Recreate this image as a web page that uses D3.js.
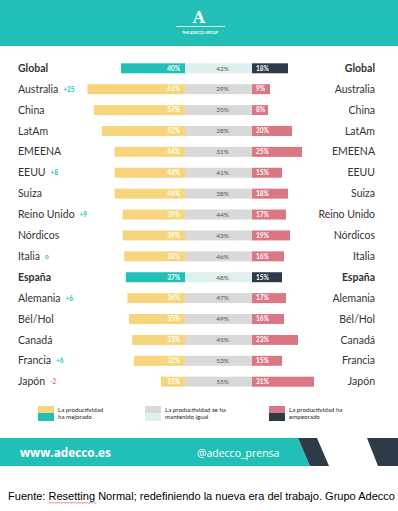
<!DOCTYPE html>
<html><head><meta charset="utf-8">
<script src="https://cdn.jsdelivr.net/npm/d3@7/dist/d3.min.js"></script>
<style>
html,body{margin:0;padding:0;background:#fff;}
svg{display:block;}
</style></head>
<body>
<script>
const countries = ["Global","Australia","China","LatAm","EMEENA","EEUU","Suiza","Reino Unido","Nórdicos","Italia","España","Alemania","Bél/Hol","Canadá","Francia","Japón"];
const improved = [40,61,57,52,44,44,44,39,39,38,37,36,35,33,32,15];
const same     = [42,29,35,28,31,41,38,44,43,46,48,47,49,45,53,55];
const worse    = [18,9,8,20,25,15,18,17,19,16,15,17,16,23,15,31];
const deltas   = ["","+25","","","","+8","","+9","","o","","+6","","","+6","-2"];
const highlight = ["Global","España"];
const legendLabels = [["La productividad","ha mejorado"],["La productividad se ha","mantenido igual"],["La productividad ha","empeorado"]];
const footerLeft = "www.adecco.es";
const footerRight = "@adecco_prensa";
const sourceText = "Fuente: Resetting Normal; redefiniendo la nueva era del trabajo. Grupo Adecco";

const W = 398, H = 511;
const C = {teal:"#22bfb6", yellow:"#f6d57c", gray:"#d9d9d9", lightTeal:"#def1ef", pink:"#d97883", navy:"#2f3a48", text:"#333"};

const svg = d3.select("body").append("svg").attr("width", W).attr("height", H);

// header
svg.append("rect").attr("x",0).attr("y",0).attr("width",W).attr("height",46).attr("fill",C.teal);
svg.append("text").attr("x",199).attr("y",23).attr("text-anchor","middle")
  .attr("font-family","DejaVu Serif, Liberation Serif, serif").attr("font-weight","bold").attr("font-size",16).attr("fill","#fff").text("A");
svg.append("line").attr("x1",176).attr("x2",225).attr("y1",26.5).attr("y2",26.5).attr("stroke","#fff").attr("stroke-width",0.8);
svg.append("text").attr("x",200).attr("y",34).attr("text-anchor","middle")
  .attr("font-family","Lato, sans-serif").attr("font-weight","bold").attr("font-size",3.6).attr("fill","#fff").text("THE ADECCO GROUP");

// scales
const y = d3.scalePoint().domain(countries).range([68.3, 381.7]);
const barH = 10;
const xImp = d3.scaleLinear().domain([0,100]).range([185, 25]);   // grows leftwards
const xMid = d3.scaleBand().domain(["same"]).range([185, 252]);
const xWor = d3.scaleLinear().domain([0,100]).range([252, 452]);

const rows = countries.map((c,i)=>({c, imp:improved[i], same:same[i], worse:worse[i], delta:deltas[i], hl: highlight.includes(c)}));

const g = svg.append("g");
const row = g.selectAll("g.row").data(rows).join("g").attr("class","row");

row.append("rect").attr("x",d=>xImp(d.imp)).attr("width",d=>xImp(0)-xImp(d.imp))
  .attr("y",d=>y(d.c)-barH/2).attr("height",barH).attr("fill",d=>d.hl?C.teal:C.yellow);
row.append("rect").attr("x",xMid("same")).attr("width",xMid.bandwidth())
  .attr("y",d=>y(d.c)-barH/2).attr("height",barH).attr("fill",d=>d.hl?C.lightTeal:C.gray);
row.append("rect").attr("x",xWor(0)).attr("width",d=>xWor(d.worse)-xWor(0))
  .attr("y",d=>y(d.c)-barH/2).attr("height",barH).attr("fill",d=>d.hl?C.navy:C.pink);

const pctFont = "Lato, sans-serif";
row.append("text").attr("x",xImp(0)-5).attr("y",d=>y(d.c)+2.3).attr("text-anchor","end")
  .attr("font-family",pctFont).attr("font-size",6.5).attr("font-weight","bold").attr("fill","#fff").text(d=>d.imp+"%");
row.append("text").attr("x",xMid("same")+xMid.bandwidth()/2+4).attr("y",d=>y(d.c)+2.3).attr("text-anchor","middle")
  .attr("font-family",pctFont).attr("font-size",6.5).attr("fill","#555").text(d=>d.same+"%");
row.append("text").attr("x",xWor(0)+4).attr("y",d=>y(d.c)+2.3)
  .attr("font-family",pctFont).attr("font-size",6.5).attr("font-weight","bold").attr("fill","#fff").text(d=>d.worse+"%");

// left labels
const labFont = "Lato, sans-serif";
row.append("text").attr("class","lab").attr("x",18).attr("y",d=>y(d.c)+3.6)
  .attr("font-family",labFont).attr("font-size",10.5).attr("font-weight",d=>d.hl?"bold":"normal")
  .attr("fill",C.text).text(d=>d.c);
row.each(function(d){
  if(!d.delta) return;
  const lab = d3.select(this).select("text.lab").node();
  const w = lab.getComputedTextLength();
  d3.select(this).append("text").attr("x",18+w+5).attr("y",y(d.c)+2.5)
    .attr("font-family",labFont).attr("font-size",6.5).attr("font-weight","bold")
    .attr("fill",d.delta.startsWith("-")?C.pink:C.teal).text(d.delta);
});
// right labels
row.append("text").attr("x",375).attr("y",d=>y(d.c)+3.6).attr("text-anchor","end")
  .attr("font-family",labFont).attr("font-size",10.5).attr("font-weight",d=>d.hl?"bold":"normal")
  .attr("fill",C.text).text(d=>d.c);

// legend
const legX = [38,145,269];
const legCols = [[C.yellow,C.teal],[C.gray,C.lightTeal],[C.pink,C.navy]];
legendLabels.forEach((lines,i)=>{
  const lg = svg.append("g");
  lg.append("rect").attr("x",legX[i]).attr("y",406).attr("width",16).attr("height",7).attr("fill",legCols[i][0]);
  lg.append("rect").attr("x",legX[i]).attr("y",413).attr("width",16).attr("height",8).attr("fill",legCols[i][1]);
  lines.forEach((t,j)=>{
    lg.append("text").attr("x",legX[i]+20).attr("y",412+j*7).attr("font-family","Lato, sans-serif")
      .attr("font-size",6.2).attr("fill","#222").text(t);
  });
});

// footer band
const bandTop = 438, bandBot = 466;
svg.append("path").attr("d",`M0,${bandTop}L298,${bandTop}L310,${bandBot}L0,${bandBot}Z`).attr("fill",C.teal);
svg.append("path").attr("d",`M298,${bandTop}L317,${bandTop}L329,${bandBot}L310,${bandBot}Z`).attr("fill",C.navy);
svg.append("path").attr("d",`M367,${bandTop}L398,${bandTop}L398,${bandBot}L378,${bandBot}Z`).attr("fill",C.navy);
svg.append("text").attr("x",20).attr("y",457).attr("font-family","Open Sans, sans-serif").attr("font-weight","bold")
  .attr("font-size",11.8).attr("fill","#fff").text(footerLeft);
svg.append("text").attr("x",197).attr("y",457).attr("font-family","Open Sans, sans-serif")
  .attr("font-size",10.5).attr("fill","#fff").text(footerRight);

// source
const src = svg.append("text").attr("x",8).attr("y",500).attr("font-family","Liberation Sans, Arial, sans-serif")
  .attr("font-size",10.8).attr("textLength",387).attr("lengthAdjust","spacingAndGlyphs")
  .attr("fill","#000").text(sourceText);
const n = src.node();
const s0 = n.getStartPositionOfChar(8).x, s1 = n.getEndPositionOfChar(16).x;
let p = `M${s0},502`;
for(let x=s0, k=0; x<s1; x+=1.5, k++) p += `L${x+1.5},${k%2?502:503.5}`;
svg.append("path").attr("d",p).attr("fill","none").attr("stroke","#d33").attr("stroke-width",0.6);
</script>
</body></html>
